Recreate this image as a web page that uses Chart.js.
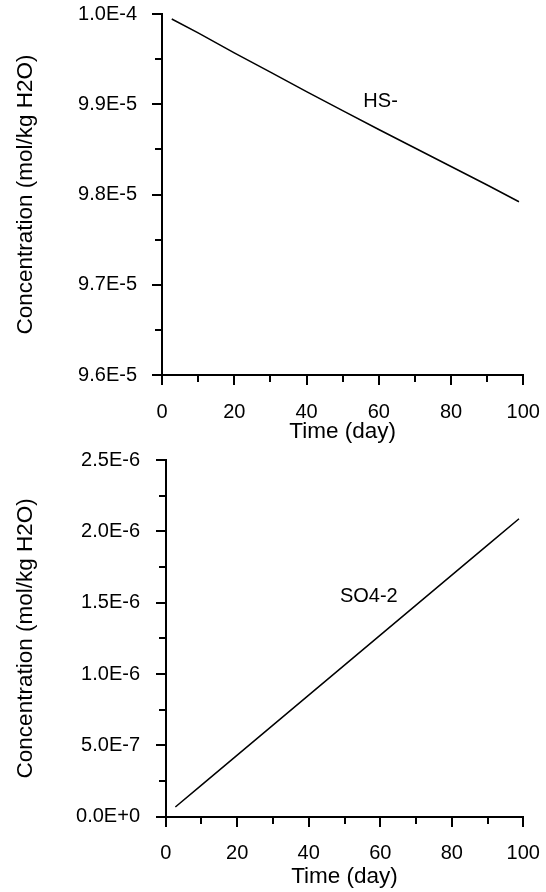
<!DOCTYPE html>
<html><head><meta charset="utf-8">
<script src="https://cdn.jsdelivr.net/npm/chart.js@4/dist/chart.umd.min.js"></script>
<style>
html,body{margin:0;padding:0;background:#fff;width:546px;height:892px;overflow:hidden}
.box{position:absolute;left:0;width:546px;height:446px}
#b1{top:0}
#b2{top:446px}
</style></head><body>
<div class="box" id="b1"><canvas id="c1"></canvas></div>
<div class="box" id="b2"><canvas id="c2"></canvas></div>
<script>
// ---- data ----
const timeDays = [2.7, 10, 20, 30, 40, 50, 60, 70, 80, 90, 98.8];
const hsConc = [9.9945e-5, 9.9790e-5, 9.9570e-5, 9.9355e-5, 9.9140e-5, 9.8930e-5, 9.8720e-5, 9.8515e-5, 9.8310e-5, 9.8105e-5, 9.7920e-5];
const so4Conc = [6.8e-8, 2.21e-7, 4.32e-7, 6.42e-7, 8.52e-7, 1.062e-6, 1.273e-6, 1.483e-6, 1.693e-6, 1.903e-6, 2.088e-6];

const xTickValues = [0, 20, 40, 60, 80, 100];
const xTickLabels = ['0', '20', '40', '60', '80', '100'];
const xMinorTicks = [10, 30, 50, 70, 90];

const hsYTickValues = [9.6e-5, 9.7e-5, 9.8e-5, 9.9e-5, 1.0e-4];
const hsYTickLabels = ['9.6E-5', '9.7E-5', '9.8E-5', '9.9E-5', '1.0E-4'];
const hsYMinorTicks = [9.65e-5, 9.75e-5, 9.85e-5, 9.95e-5];

const so4YTickValues = [0, 5e-7, 1e-6, 1.5e-6, 2e-6, 2.5e-6];
const so4YTickLabels = ['0.0E+0', '5.0E-7', '1.0E-6', '1.5E-6', '2.0E-6', '2.5E-6'];
const so4YMinorTicks = [2.5e-7, 7.5e-7, 1.25e-6, 1.75e-6, 2.25e-6];

const xTitle = 'Time (day)';
const yTitle = 'Concentration (mol/kg H2O)';
const hsName = 'HS-';
const so4Name = 'SO4-2';
const hsNameAt = [60.5, 9.903e-5];
const so4NameAt = [56.8, 1.545e-6];

// ---- rendering ----
const FONT = '"Liberation Sans", Arial, Helvetica, sans-serif';
Chart.defaults.font.family = FONT;
Chart.defaults.color = '#000';

const tickPlugin = {
  id: 'axisTicks',
  afterDraw(chart) {
    const o = chart.options.plugins.axisTicks;
    const ctx = chart.ctx, xs = chart.scales.x, ys = chart.scales.y;
    const ca = chart.chartArea;
    ctx.save();
    ctx.strokeStyle = '#000';
    ctx.lineWidth = 2;
    ctx.beginPath();
    const L = Math.round(ca.left), B = Math.round(ca.bottom);
    o.yMajor.forEach(v => { const p = Math.round(ys.getPixelForValue(v)); ctx.moveTo(L - 10, p); ctx.lineTo(L, p); });
    o.yMinor.forEach(v => { const p = Math.round(ys.getPixelForValue(v)); ctx.moveTo(L - 7, p); ctx.lineTo(L, p); });
    o.xMajor.forEach(v => { const p = Math.round(xs.getPixelForValue(v)); ctx.moveTo(p, B); ctx.lineTo(p, B + 10); });
    o.xMinor.forEach(v => { const p = Math.round(xs.getPixelForValue(v)); ctx.moveTo(p, B); ctx.lineTo(p, B + 7); });
    ctx.stroke();
    // series name
    ctx.fillStyle = '#000';
    ctx.font = '20px ' + FONT;
    ctx.textAlign = 'center';
    ctx.textBaseline = 'middle';
    ctx.fillText(o.name, xs.getPixelForValue(o.nameAt[0]), ys.getPixelForValue(o.nameAt[1]));
    ctx.restore();
  }
};

function makeChart(id, values, yVals, yLabs, yMinor, name, nameAt, yWidth, xHeight, xPad, yPad, xTitlePad) {
  const pts = timeDays.map((t, i) => ({x: t, y: values[i]}));
  return new Chart(document.getElementById(id), {
    type: 'line',
    data: { datasets: [{ data: pts, borderColor: '#000', borderWidth: 1.5, pointRadius: 0, tension: 0, fill: false }] },
    options: {
      responsive: true, maintainAspectRatio: false, animation: false,
      layout: { padding: { top: 14, right: 22.7, bottom: 0, left: 0 } },
      plugins: {
        legend: { display: false }, tooltip: { enabled: false },
        axisTicks: { yMajor: yVals, yMinor: yMinor, xMajor: xTickValues, xMinor: xMinorTicks, name: name, nameAt: nameAt }
      },
      scales: {
        x: {
          type: 'linear', min: 0, max: 100,
          afterBuildTicks: s => { s.ticks = xTickValues.map(v => ({ value: v })); },
          afterFit: s => { s.height = xHeight; s.paddingLeft = 0; s.paddingRight = 0; s.paddingTop = 0; s.paddingBottom = 0; },
          ticks: { callback: (v, i) => xTickLabels[i], padding: xPad, maxRotation: 0, autoSkip: false, font: { size: 20 } },
          grid: { display: true, drawOnChartArea: false, drawTicks: false },
          border: { display: true, color: '#000', width: 2 },
          title: { display: true, text: xTitle, font: { size: 22.5 }, padding: { top: 0, bottom: xTitlePad } }
        },
        y: {
          type: 'linear', min: yVals[0], max: yVals[yVals.length - 1],
          afterBuildTicks: s => { s.ticks = yVals.map(v => ({ value: v })); },
          afterFit: s => { s.width = yWidth; s.paddingLeft = 0; s.paddingRight = 0; s.paddingTop = 0; s.paddingBottom = 0; },
          ticks: { callback: (v, i) => yLabs[i], padding: yPad, autoSkip: false, font: { size: 20 } },
          grid: { display: true, drawOnChartArea: false, drawTicks: false },
          border: { display: true, color: '#000', width: 2 },
          title: { display: true, text: yTitle, font: { size: 22.5 }, padding: { top: 12.5, bottom: 0 } }
        }
      }
    },
    plugins: [tickPlugin]
  });
}

makeChart('c1', hsConc, hsYTickValues, hsYTickLabels, hsYMinorTicks, hsName, hsNameAt, 162, 71, 25, 25, 0.8);
makeChart('c2', so4Conc, so4YTickValues, so4YTickLabels, so4YMinorTicks, so4Name, so4NameAt, 165.7, 75.3, 24.3, 25.7, 1.8);
</script>
</body></html>
